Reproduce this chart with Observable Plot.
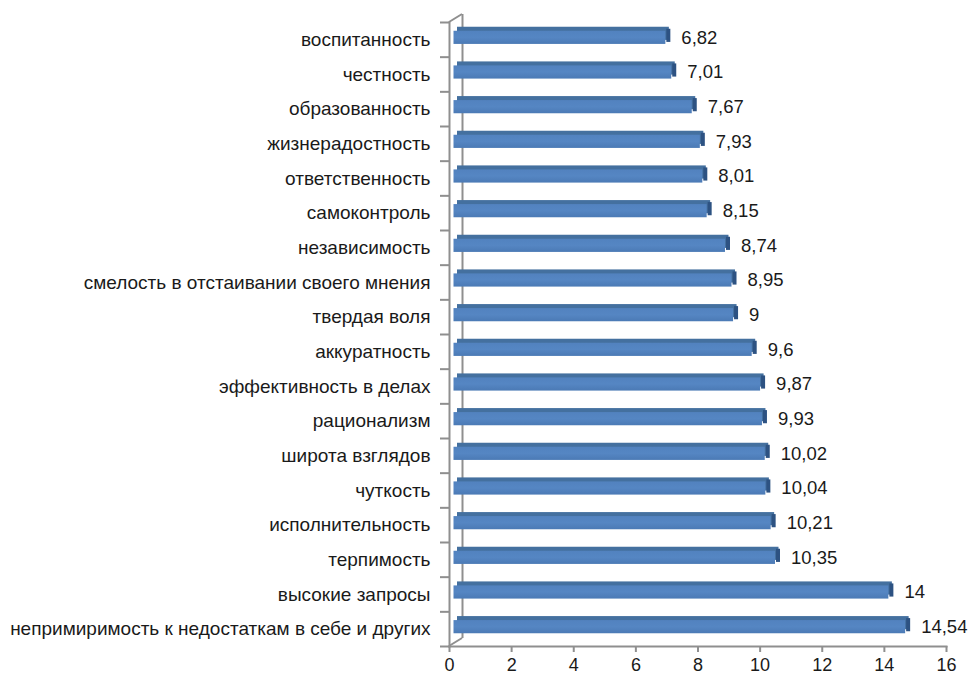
<!DOCTYPE html>
<html><head><meta charset="utf-8">
<script src="https://cdn.jsdelivr.net/npm/d3@7"></script>
<script src="https://cdn.jsdelivr.net/npm/@observablehq/plot@0.6"></script>
<style>body{margin:0;background:#fff;} #chart svg{display:block}</style>
</head><body><div id="chart"></div>
<script>
const categories = [
  "воспитанность",
  "честность",
  "образованность",
  "жизнерадостность",
  "ответственность",
  "самоконтроль",
  "независимость",
  "смелость в отстаивании своего мнения",
  "твердая воля",
  "аккуратность",
  "эффективность в делах",
  "рационализм",
  "широта взглядов",
  "чуткость",
  "исполнительность",
  "терпимость",
  "высокие запросы",
  "непримиримость к недостаткам в себе и других"
];
const values = [6.82, 7.01, 7.67, 7.93, 8.01, 8.15, 8.74, 8.95, 9, 9.6, 9.87, 9.93, 10.02, 10.04, 10.21, 10.35, 14, 14.54];
const xTicks = [0, 2, 4, 6, 8, 10, 12, 14, 16];

const data = categories.map((c, i) => ({cat: c, value: values[i], label: String(values[i]).replace(".", ",")}));

const W = 968, H = 681;
const mt = 22, mb = 35, ml = 449, mr = 22;
const step = (H - mt - mb) / categories.length;
const font = "'Liberation Sans', Arial, sans-serif";
const axisColor = "#8f8f8f";

const plot = Plot.plot({
  width: W, height: H,
  marginTop: mt, marginBottom: mb, marginLeft: ml, marginRight: mr,
  style: {fontFamily: font, fontSize: "17px", color: "#1a1a1a", background: "#fff"},
  x: {domain: [0, 16], ticks: xTicks, label: null},
  y: {domain: categories, paddingInner: 0.62, paddingOuter: 0.31, round: false, label: null},
  marks: [
    // back wall
    Plot.ruleX([0], {dx: 13, dy: -8, stroke: axisColor, strokeWidth: 2}),
    // top face (depth)
    Plot.barX(data, {x: "value", y: "cat", fill: "#44709f", dx: 8, dy: -6}),
    // side face
    Plot.tickX(data, {x: "value", y: "cat", stroke: "#2d5282", strokeWidth: 4, dx: 7, dy: -4}),
    // front face
    Plot.barX(data, {x: "value", y: "cat", fill: "url(#barGrad)", dx: 4.5, dy: -2}),
    Plot.text(data, {x: "value", y: "cat", text: "label", dx: 20, dy: -2, textAnchor: "start", fontSize: 18.5, fill: "#1a1a1a"}),
    Plot.frame({anchor: "left", stroke: axisColor, strokeWidth: 2}),
    Plot.frame({anchor: "bottom", stroke: axisColor, strokeWidth: 2}),
    Plot.axisX({ticks: xTicks, tickSize: 6, tickPadding: 6, stroke: axisColor, strokeWidth: 2, fontSize: 18, label: null, tickFormat: d => String(d)}),
    Plot.axisY({tickSize: 0, tickPadding: 19, fontSize: 19, label: null}),
    Plot.axisY({tickSize: 9, tickFormat: () => "", label: null, dy: -step / 2, stroke: axisColor, strokeWidth: 2}),
    Plot.axisY([categories[categories.length - 1]], {tickSize: 9, tickFormat: () => "", label: null, dy: step / 2, stroke: axisColor, strokeWidth: 2})
  ]
});

// gradient for front face + 3D diagonals
const svg = d3.select(plot);
const defs = svg.insert("defs", ":first-child");
const g = defs.append("linearGradient").attr("id", "barGrad").attr("x1", 0).attr("y1", 0).attr("x2", 0).attr("y2", 1);
g.append("stop").attr("offset", "0%").attr("stop-color", "#5282bf");
g.append("stop").attr("offset", "50%").attr("stop-color", "#5586c3");
g.append("stop").attr("offset", "100%").attr("stop-color", "#4b7ab5");

const xs = plot.scale("x");
const x0 = xs.apply(0);
const [yTop, yBot] = [mt, H - mb];
const diag = svg.append("g").attr("stroke", axisColor).attr("stroke-width", 2).attr("fill", "none");
diag.append("line").attr("x1", x0).attr("y1", yTop).attr("x2", x0 + 13).attr("y2", yTop - 8);
diag.append("line").attr("x1", x0).attr("y1", yBot).attr("x2", x0 + 13).attr("y2", yBot - 8);

document.getElementById("chart").appendChild(plot);
</script>
</body></html>
